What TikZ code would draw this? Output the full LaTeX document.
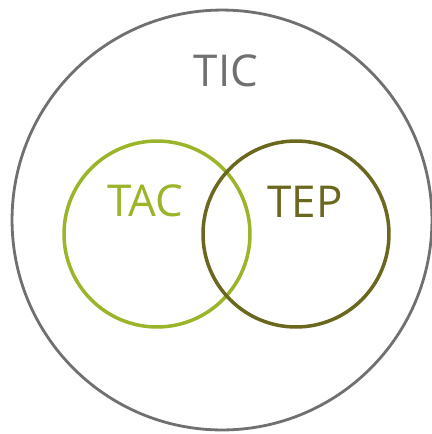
\documentclass[tikz,border=0pt]{standalone}
\usepackage{fontspec}
\setsansfont{Open Sans}
\usetikzlibrary{positioning}

\definecolor{ticgray}{HTML}{707070}
\definecolor{tacgreen}{HTML}{9AB52A}
\definecolor{tepolive}{HTML}{6A671E}

\tikzset{
  ring/.style={circle,draw,inner sep=0pt,line width=#1},
  ringlabel/.style={font=\sffamily\fontsize{25}{30}\selectfont,inner sep=0pt}
}

\begin{document}
\begin{tikzpicture}[x=0.02cm,y=-0.02cm]
	\useasboundingbox (0,0) rectangle (432,434);
	% outer set
	\node[ring=1.6pt,draw=ticgray,minimum size=8.4cm](TIC) at (222,220){};
	% the two inner sets
	\node[ring=2pt,draw=tacgreen,minimum size=3.72cm](TAC) at (157,234){};
	\node[ring=2pt,draw=tepolive,minimum size=3.72cm](TEP) at (296,234){};

	\node[ringlabel,text=ticgray](TIClabel) at (226,71){TIC};
	\node[ringlabel,text=tacgreen](TAClabel) at (145,201){TAC};
	\node[ringlabel,text=tepolive](TEPlabel) at (305,202){TEP};
\end{tikzpicture}
\end{document}
